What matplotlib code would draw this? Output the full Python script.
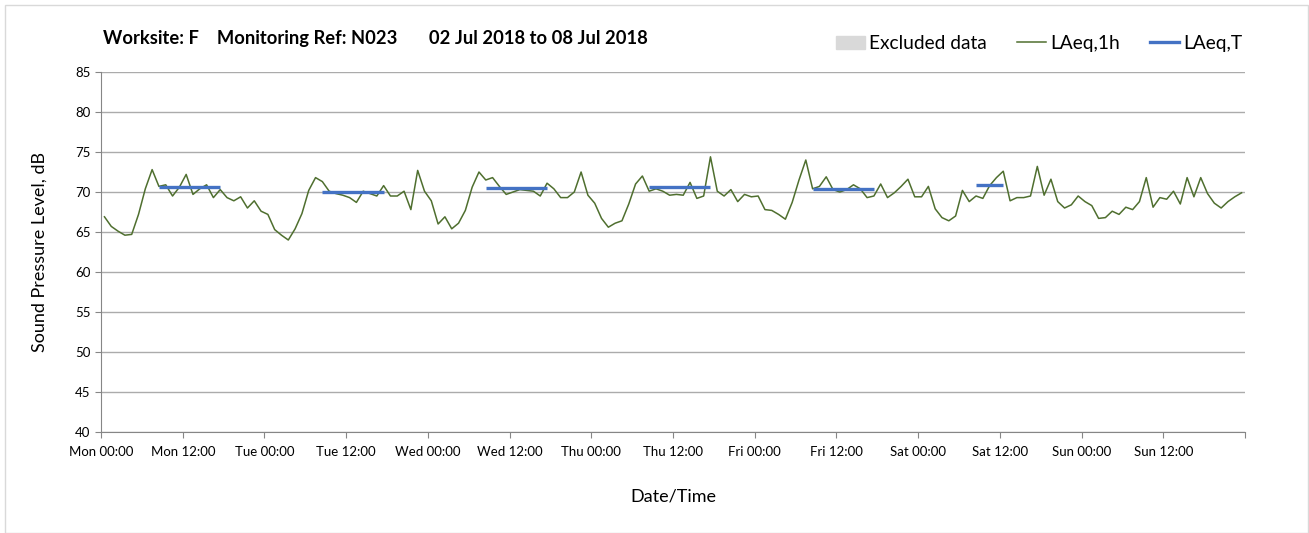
import matplotlib.pyplot as plt
from matplotlib.patches import Patch, Rectangle
from matplotlib.lines import Line2D

plt.rcParams['font.family'] = ['Lato', 'DejaVu Sans']

# hourly LAeq,1h values, Mon 00:00 .. Sun 23:00
laeq_1h = [
    66.9, 65.7, 65.1, 64.6, 64.7, 67.2, 70.4, 72.8, 70.7, 70.9, 69.5, 70.6,
    72.2, 69.7, 70.4, 70.9, 69.3, 70.3, 69.3, 68.9, 69.4, 68.0, 68.9, 67.6,
    67.2, 65.3, 64.6, 64.0, 65.4, 67.3, 70.2, 71.8, 71.3, 70.1, 69.8, 69.6,
    69.3, 68.7, 70.1, 69.8, 69.5, 70.8, 69.5, 69.5, 70.1, 67.8, 72.7, 70.1,
    68.9, 66.0, 66.9, 65.4, 66.1, 67.7, 70.6, 72.5, 71.5, 71.8, 70.7, 69.7,
    70.0, 70.3, 70.2, 70.1, 69.5, 71.1, 70.4, 69.3, 69.3, 70.0, 72.5, 69.6,
    68.6, 66.7, 65.6, 66.1, 66.4, 68.5, 71.0, 72.0, 70.1, 70.4, 70.1, 69.6,
    69.7, 69.6, 71.2, 69.2, 69.5, 74.4, 70.1, 69.5, 70.3, 68.8, 69.7, 69.4,
    69.5, 67.8, 67.7, 67.2, 66.6, 68.7, 71.5, 74.0, 70.4, 70.7, 71.9, 70.3,
    70.0, 70.3, 70.9, 70.4, 69.3, 69.5, 71.0, 69.3, 69.9, 70.7, 71.6, 69.4,
    69.4, 70.7, 67.9, 66.8, 66.4, 67.0, 70.2, 68.8, 69.5, 69.2, 70.8, 71.8,
    72.6, 68.9, 69.3, 69.3, 69.5, 73.2, 69.6, 71.6, 68.8, 68.0, 68.4, 69.5,
    68.8, 68.3, 66.7, 66.8, 67.6, 67.2, 68.1, 67.8, 68.8, 71.8, 68.1, 69.3,
    69.1, 70.1, 68.5, 71.8, 69.4, 71.8, 69.8, 68.6, 68.0, 68.8, 69.4, 69.9,
]

# LAeq,T daytime periods: (first hour index, last hour index, level)
laeq_t = [
    (8, 17, 70.6),
    (32, 41, 70.0),
    (56, 65, 70.5),
    (80, 89, 70.6),
    (104, 113, 70.4),
    (128, 132, 70.9),
]

days = ['Mon', 'Tue', 'Wed', 'Thu', 'Fri', 'Sat', 'Sun']
tick_labels = [f'{d} {t}' for d in days for t in ('00:00', '12:00')]

green = '#4f6f2f'
blue = '#4472c4'

fig = plt.figure(figsize=(13.09, 5.33), dpi=100)
ax = fig.add_axes([0.0772, 0.1895, 0.8739, 0.6754])

hours = [h + 0.5 for h in range(len(laeq_1h))]
ax.plot(hours, laeq_1h, color=green, lw=1.1, zorder=3)

for start, end, level in laeq_t:
    ax.plot([start + 0.5, end + 0.5], [level, level], color=blue, lw=2.4,
            solid_capstyle='butt', zorder=4)

ax.set_xlim(0, 168)
ax.set_ylim(40, 85)
ax.set_yticks(range(40, 86, 5))
ax.set_xticks(list(range(0, 168, 12)) + [168])
ax.set_xticklabels(tick_labels + [''])
ax.set_xticks(range(0, 169, 24), minor=True)

ax.grid(axis='y', color='#ababab', lw=1.0, zorder=0)
ax.grid(axis='x', which='minor', color='#d9d9d9', lw=1.0, zorder=0)
ax.grid(axis='x', which='major', visible=False)

for s in ['top', 'right']:
    ax.spines[s].set_visible(False)
ax.spines['left'].set_color('#868686')
ax.spines['bottom'].set_color('#868686')
ax.tick_params(axis='both', which='major', colors='#868686', labelcolor='black',
               labelsize=9.5, length=4)
ax.tick_params(axis='x', which='minor', length=0)
ax.tick_params(axis='x', pad=6)

ax.set_ylabel('Sound Pressure Level, dB', fontsize=13, labelpad=20)
ax.set_xlabel('Date/Time', fontsize=13, labelpad=22)

fig.text(0.0786, 0.927, 'Worksite: F    Monitoring Ref: N023       02 Jul 2018 to 08 Jul 2018',
         fontsize=13.2, fontweight='bold', va='center')

handles = [Patch(color='#d9d9d9'),
           Line2D([], [], color=green, lw=1.1),
           Line2D([], [], color=blue, lw=2.4)]
fig.legend(handles, ['Excluded data', 'LAeq,1h', 'LAeq,T'], ncol=3,
           loc='center right', bbox_to_anchor=(0.962, 0.918), frameon=False,
           fontsize=13.8, handlelength=1.5, handletextpad=0.2, columnspacing=1.6)

fig.patches.append(Rectangle((0.004, 0.0), 0.995, 0.99, transform=fig.transFigure,
                             fill=False, edgecolor='#d9d9d9', lw=1))

fig.savefig('out.png', dpi=100)
